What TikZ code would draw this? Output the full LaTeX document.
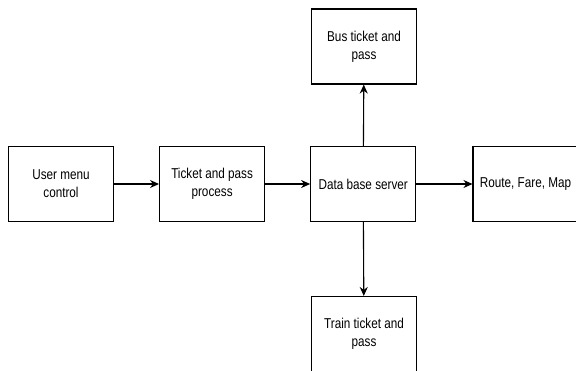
\documentclass[tikz,border=0pt]{standalone}
\usepackage{fontspec}
\setmainfont{Liberation Sans}
\newfontfamily\blkfont[FakeStretch=0.82]{Liberation Sans}
\usepackage{tikz}
\usetikzlibrary{positioning,arrows.meta}

\begin{document}
\begin{tikzpicture}[x=1pt,y=-1pt,
	blk/.style={draw,line width=1.1pt,minimum width=105pt,minimum height=75pt,
		align=center,inner sep=2pt,font=\blkfont\fontsize{14.3}{18}\selectfont},
	flow/.style={-{Stealth[length=9pt,width=8pt]},line width=1.1pt}]
	\useasboundingbox (0,0) rectangle (576,370);
	
	\node[blk] (user) at (61,184) {User menu\\control};
	\node[blk,right=45pt of user] (ticket) {Ticket and pass\\process};
	\node[blk,right=45pt of ticket] (db) {Data base server};
	\node[blk] (route) at (525.5,184) {Route, Fare, Map};
	\node[blk] (bus) at (364,46.5) {Bus ticket and\\pass};
	\node[blk] (train) at (364,334) {Train ticket and\\pass};
	
	\draw[flow] (user) -- (ticket);
	\draw[flow] (ticket) -- (db);
	\draw[flow] (db) -- (route);
	\draw[flow] (db) -- (bus);
	\draw[flow] (db) -- (train);
\end{tikzpicture}
\end{document}
